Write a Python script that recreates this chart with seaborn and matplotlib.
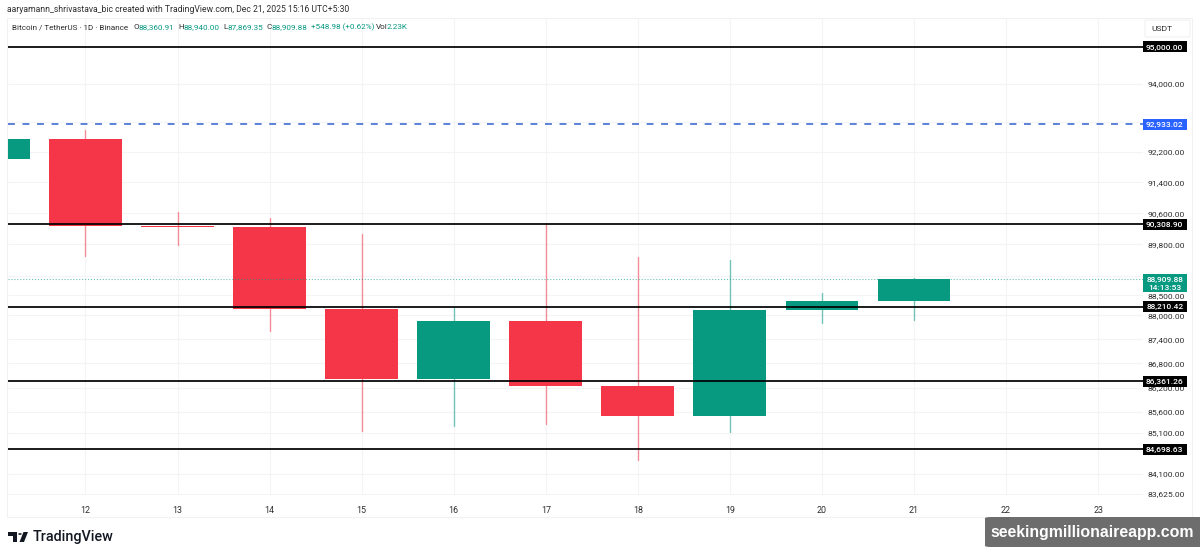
import numpy as np
import pandas as pd
import matplotlib.pyplot as plt
from matplotlib.patches import FancyBboxPatch, Polygon, Rectangle, Circle
from matplotlib.transforms import IdentityTransform
import seaborn as sns

days = [11, 12, 13, 14, 15, 16, 17, 18, 19, 20, 21]
opens = [92012, 92539, 90270, 90250, 88160, 86415, 87857, 86243, 85507, 88133, 88360.91]
closes = [92539, 90270, 90236, 88158, 86415, 87857, 86243, 85507, 88133, 88359, 88909.88]
highs = [92900, 92777, 90631, 90476, 90064, 88180, 90310, 89475, 89398, 88561, 88940.00]
lows = [91800, 89501, 89782, 87606, 85142, 85264, 85312, 84440, 85118, 87806, 87869.35]

date_ticks = [12, 13, 14, 15, 16, 17, 18, 19, 20, 21, 22, 23]
price_ticks = [94000, 93000, 92200, 91400, 90600, 89800, 89000, 88500, 88000, 87400,
               86800, 86200, 85600, 85100, 84100, 83625]
black_levels = [95000.00, 90308.90, 88210.42, 86361.26, 84698.63]
blue_level = 92933.02
last_price = 88909.88
countdown = '14:13:53'

GREEN = '#089981'
RED = '#f53648'
BLUE = '#2962ff'
TEXT = '#2e2e2e'
GRID = '#f3f4f6'
W, H = 1200, 557

sns.set_style('white')
plt.rcParams['font.family'] = ['Roboto', 'DejaVu Sans']

df = pd.DataFrame({'day': days, 'open': opens, 'close': closes, 'high': highs, 'low': lows})
df['body_low'] = df[['open', 'close']].min(axis=1)
df['body_size'] = (df['close'] - df['open']).abs()
df['up'] = df['close'] >= df['open']

fig = plt.figure(figsize=(12, 5.57), dpi=100, facecolor='white')


def fx(px):
    return px / W


def fy(py):
    return 1 - py / H


def label(px, py, s, color=TEXT, size=6.0, **kw):
    fig.text(fx(px), fy(py), s, color=color, fontsize=size, va='center', **kw)


ax = fig.add_axes([fx(7.5), fy(495), fx(1135.5), 477 / H])
ax.set_yscale('function', functions=(np.log, np.exp))

for is_up, color in [(True, GREEN), (False, RED)]:
    part = df[df.up == is_up]
    for day, low, high in zip(part.day, part.low, part.high):
        wick = pd.DataFrame({'day': [day, day], 'price': [low, high]})
        sns.lineplot(data=wick, x='day', y='price', estimator=None, sort=False, color=color,
                     alpha=0.55, linewidth=1, ax=ax, zorder=0.8)
    sns.barplot(data=part, x='day', y='body_size', bottom=part.body_low.values, native_scale=True,
                color=color, saturation=1, width=0.79, linewidth=0, errorbar=None, ax=ax, zorder=1)

for level in black_levels:
    ax.axhline(level, color='black', linewidth=1.25, zorder=3)
ax.axhline(blue_level, color='#2f5fd0', linewidth=1.1, dashes=(4.5, 5), zorder=3)
ax.axhline(last_price, color=GREEN, linewidth=0.8, linestyle=':', alpha=0.6, zorder=3)

ax.set_xlim(11.153, 23.488)
ax.set_ylim(83600, 95789)
ax.set_xticks(date_ticks)
ax.set_yticks(price_ticks)
ax.set_yticklabels([f'{p:,.2f}' for p in price_ticks])
ax.minorticks_off()
ax.yaxis.tick_right()
ax.tick_params(axis='y', length=0, pad=3.5, labelsize=6.1, labelcolor=TEXT)
ax.tick_params(axis='x', length=0, pad=8, labelsize=6.4, labelcolor=TEXT)
ax.set_xlabel('')
ax.set_ylabel('')
ax.set_axisbelow(True)
ax.grid(True, color=GRID, linewidth=0.8)
for spine in ax.spines.values():
    spine.set_visible(False)
ax.patch.set_alpha(0)


# price badges sit on the right scale, placed from the axis transform
def badge(level, color, lines, above=5.5, below=5.5):
    y = ax.transData.transform((ax.get_xlim()[0], level))[1]
    fig.add_artist(Rectangle((1143, y - below), 43.5, above + below, fc=color, ec='none',
                             transform=IdentityTransform(), zorder=5))
    for i, s in enumerate(lines):
        fig.text(1164.7, y - i * 8, s, color='white', fontsize=6.0, fontweight='medium', ha='center',
                 va='center_baseline', transform=IdentityTransform(), zorder=6)


for level in black_levels:
    badge(level, 'black', [f'{level:,.2f}'])
badge(blue_level, BLUE, [f'{blue_level:,.2f}'])
badge(last_price, GREEN, [f'{last_price:,.2f}', countdown], above=5.5, below=12.5)

# chart frame, header and footer
fig.add_artist(Rectangle((fx(7), fy(517)), fx(1185), 499 / H, fc='none', ec='#f0f1f3', lw=0.8, zorder=0))
fig.add_artist(FancyBboxPatch((fx(1145), fy(37)), fx(45), 17 / H, boxstyle='round,pad=0,rounding_size=0.002',
                              fc='white', ec='#f0f1f3', lw=0.8, mutation_aspect=H / W))
label(1151, 29, 'USDT', size=6.1)
label(7, 10, 'aaryamann_shrivastava_bic created with TradingView.com, Dec 21, 2025 15:16 UTC+5:30', size=6.2)

label(12, 27, 'Bitcoin / TetherUS · 1D · Binance', size=5.85)
for px, s, color in [(133.5, 'O', TEXT), (138.5, '88,360.91', GREEN), (178, 'H', TEXT), (184, '88,940.00', GREEN),
                     (223, 'L', TEXT), (227.5, '87,869.35', GREEN), (266.5, 'C', TEXT), (272, '88,909.88', GREEN),
                     (311, '+548.98 (+0.62%)', GREEN), (376, 'Vol', TEXT), (387, '2.23K', GREEN)]:
    label(px, 27, s, color=color, size=5.85)

# TradingView logo
logo_t = [(8, 532), (17, 532), (17, 542), (12.5, 542), (12.5, 535.5), (8, 535.5)]
logo_v = [(23.5, 532), (28, 532), (24, 542), (19.5, 542)]
for shape in (logo_t, logo_v):
    fig.add_artist(Polygon([(fx(x), fy(y)) for x, y in shape], closed=True, fc='#131722', ec='none'))
fig.add_artist(Circle((fx(20), fy(534)), fx(1.8), fc='#131722', ec='none'))
label(33, 537, 'TradingView', color='#131722', size=10.4, fontweight='medium')

# watermark
fig.add_artist(FancyBboxPatch((fx(985), fy(547)), fx(230), 30 / H, boxstyle='round,pad=0,rounding_size=0.005',
                              fc='#6d6d6d', ec='none', mutation_aspect=H / W, zorder=8))
fig.text(fx(990), fy(532), 'seekingmillionaireapp.com', color='white', fontsize=11.4, fontweight='bold',
         family='Liberation Sans', va='center', zorder=9)

fig.savefig('out.png', dpi=100)
plt.close(fig)
